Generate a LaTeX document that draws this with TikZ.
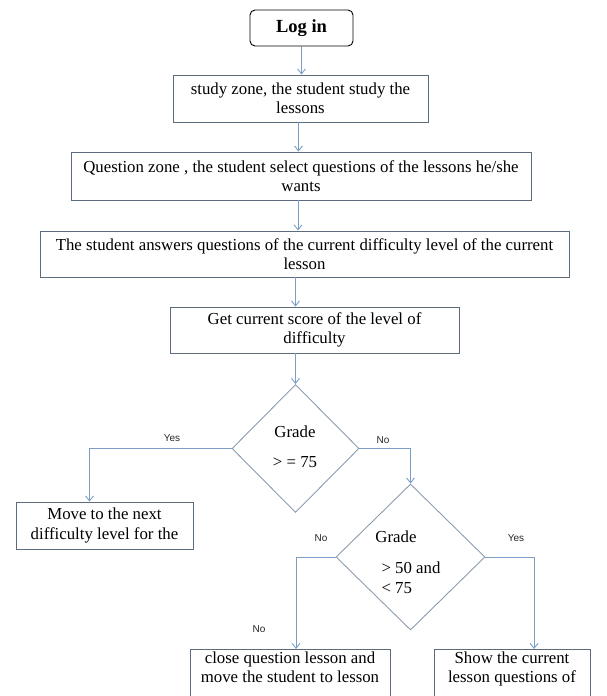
\documentclass[tikz,border=0pt]{standalone}
\usepackage{fontspec}
\setmainfont{Liberation Serif}
\newfontfamily\labelfont{Liberation Sans}
\usetikzlibrary{shapes.geometric,arrows.meta,calc}
\definecolor{boxline}{RGB}{92,108,124}
\definecolor{flowline}{RGB}{122,158,198}
\definecolor{decline}{RGB}{140,156,172}
\begin{document}
\begin{tikzpicture}[x=1pt,y=-1pt,
  boxtext/.style={font=\fontsize{16.8}{19.5}\selectfont, align=center},
  stepbox/.style={draw=boxline, line width=0.9pt, boxtext, inner sep=0pt},
  decision/.style={draw=decline, line width=0.9pt, diamond, inner sep=0pt},
  flow/.style={draw=flowline, line width=0.9pt, -{Straight Barb[length=5pt,width=8pt]}},
  branchlabel/.style={font=\labelfont\fontsize{10}{12}\selectfont, text=black!85}
]
\useasboundingbox (0,0) rectangle (606,696);
\clip (0,0) rectangle (606,696);

% process steps
\node[draw=black, line width=0.9pt, rounded corners=5pt, minimum width=103, minimum height=36,
      font=\bfseries\fontsize{18.5}{22}\selectfont] (login) at (301.5,28) {Log in};
\node[stepbox, minimum width=255, minimum height=47] (study) at (300.5,98.5)
  {study zone, the student study the\\lessons};
\node[stepbox, minimum width=460, minimum height=48] (question) at (301,176)
  {Question zone , the student select questions of the lessons he/she\\wants};
\node[stepbox, minimum width=529, minimum height=46] (answers) at (304.5,254)
  {The student answers questions of the current difficulty level of the current\\lesson};
\node[stepbox, minimum width=289, minimum height=46] (score) at (314.5,330)
  {Get current score of the level of\\difficulty};

% decisions
\node[decision, minimum width=127, minimum height=128] (d1) at (295.5,448.5) {};
\node[boxtext] (d1txt) at (295,447) {Grade\\[10.5pt]> = 75};
\node[decision, minimum width=149, minimum height=146] (d2) at (410.5,557) {};
\node[boxtext] (d2grade) at (396,537) {Grade};
\node[boxtext, align=left, anchor=west] (d2cond) at (378,577.5) {> 50 and\\< 75};

% outcomes
\node[stepbox, minimum width=177, minimum height=47] (move) at (104.5,525.5)
  {Move to the next\\difficulty level for the};
\node[stepbox, anchor=north, minimum width=200, inner ysep=2pt] (close) at (290,649)
  {close question lesson and\\move the student to lesson\\[6pt]};
\node[stepbox, anchor=north, minimum width=156, inner ysep=2pt] (show) at (512,649)
  {Show the current\\lesson questions of\\[6pt]};

% entry points of the connectors
\coordinate (studyout) at ($(study.south)+(-2,0)$);
\coordinate (questionout) at ($(question.south)+(-3,0)$);
\coordinate (movein) at ($(move.north)+(-15,0)$);
\coordinate (closein) at ($(close.north)+(6,0)$);
\coordinate (showin) at ($(show.north)+(22,0)$);

% connectors
\draw[flow] (login.south) -- (login.south |- study.north);
\draw[flow] (studyout) -- (studyout |- question.north);
\draw[flow] (questionout) -- (questionout |- answers.north);
\draw[flow] (d1.north |- answers.south) -- (d1.north |- score.north);
\draw[flow] (d1.north |- score.south) -- (d1.north);
\draw[flow] (d1.west) -| (movein);
\draw[flow] (d1.east) -| (d2.north);
\draw[flow] (d2.west) -| (closein);
\draw[flow] (d2.east) -| (showin);

% branch labels
\node[branchlabel] (yes1) at (172,438) {Yes};
\node[branchlabel] (no1) at (383,440) {No};
\node[branchlabel] (no2) at (321,538) {No};
\node[branchlabel] (yes2) at (516,538) {Yes};
\node[branchlabel] (no3) at (259,629) {No};
\end{tikzpicture}
\end{document}
